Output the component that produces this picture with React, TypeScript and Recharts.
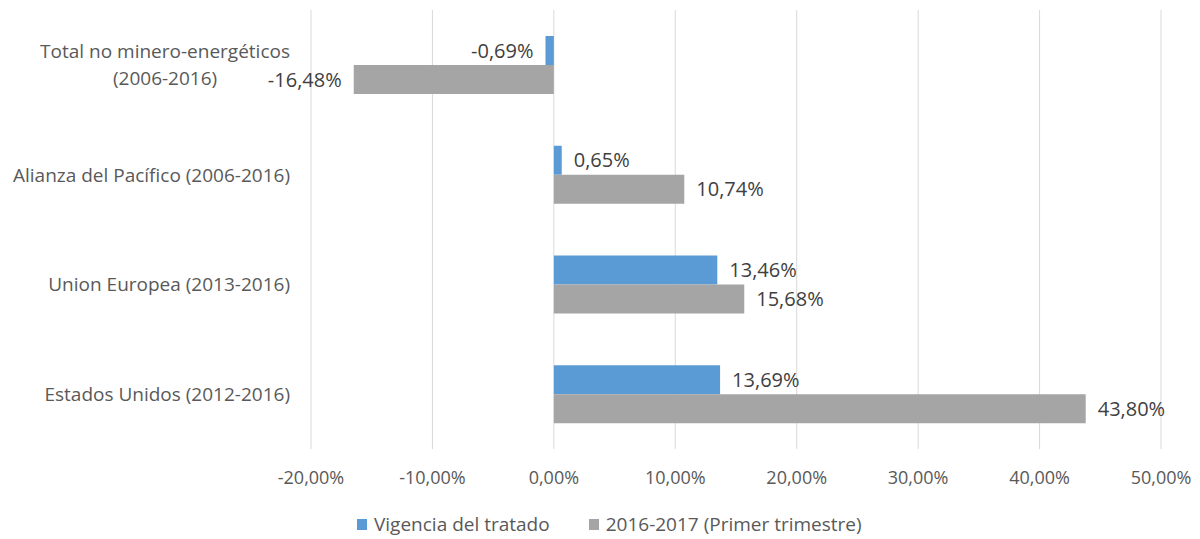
import React from "react";
import {
  BarChart,
  Bar,
  XAxis,
  YAxis,
  CartesianGrid,
  Legend,
  LabelList,
} from "recharts";

const categories = [
  "Total no minero-energéticos (2006-2016)",
  "Alianza del Pacífico (2006-2016)",
  "Union Europea (2013-2016)",
  "Estados Unidos (2012-2016)",
];
const vigencia = [-0.69, 0.65, 13.46, 13.69];
const primerTrimestre = [-16.48, 10.74, 15.68, 43.8];
const xTicks = [-20, -10, 0, 10, 20, 30, 40, 50];
const seriesNames = ["Vigencia del tratado", "2016-2017 (Primer trimestre)"];
const seriesColors = ["#5b9bd5", "#a5a5a5"];

const data = categories.map((name, i) => ({
  name,
  vigencia: vigencia[i],
  trimestre: primerTrimestre[i],
}));

const FONT = "'Open Sans', sans-serif";
const CAT_FS = 19;
const fmt = (v: number) => `${v.toFixed(2).replace(".", ",")}%`;

function textWidth(s: string) {
  const c = document.createElement("canvas").getContext("2d");
  if (!c) return s.length * CAT_FS * 0.5;
  c.font = `${CAT_FS}px ${FONT}`;
  return c.measureText(s).width;
}

function CategoryTick(props: any) {
  const { x, y, payload } = props;
  const label: string = payload.value;
  let lines = [label];
  if (label.length > 34) {
    const cut = label.indexOf(" (");
    lines = [label.slice(0, cut), label.slice(cut + 1)];
  }
  const lh = 27;
  const start = y - ((lines.length - 1) * lh) / 2;
  const maxW = Math.max(...lines.map(textWidth));
  const cx = x - maxW / 2;
  return (
    <text fill="#595959" fontSize={CAT_FS} fontFamily={FONT} textAnchor="middle">
      {lines.map((l, i) => (
        <tspan key={i} x={cx} y={start + i * lh} dominantBaseline="central">
          {l}
        </tspan>
      ))}
    </text>
  );
}

function LegendContent() {
  return (
    <div
      style={{
        display: "flex",
        justifyContent: "flex-start",
        fontFamily: FONT,
        fontSize: 19,
        color: "#595959",
        paddingLeft: 357,
      }}
    >
      {seriesNames.map((n, i) => (
        <span key={n} style={{ display: "flex", alignItems: "center", marginRight: 39 }}>
          <span
            style={{
              display: "inline-block",
              width: 10,
              height: 11,
              background: seriesColors[i],
              marginRight: 7,
            }}
          />
          {n}
        </span>
      ))}
    </div>
  );
}

export default function App() {
  return (
    <div style={{ position: "absolute", left: 0, top: 0, background: "#fff" }}>
      <BarChart
        width={1200}
        height={539}
        data={data}
        layout="vertical"
        margin={{ top: 10, right: 39, bottom: 10, left: 0 }}
        barGap={0}
        barSize={29}
      >
        <CartesianGrid horizontal={false} stroke="#d9d9d9" />
        <XAxis
          type="number"
          domain={[-20, 50]}
          ticks={xTicks}
          tickFormatter={fmt}
          axisLine={false}
          tickLine={false}
          tickSize={0}
          tickMargin={22}
          height={50}
          tick={{ fill: "#595959", fontSize: 18, fontFamily: FONT }}
        />
        <YAxis
          type="category"
          dataKey="name"
          width={311}
          axisLine={false}
          tickLine={false}
          tickSize={0}
          tickMargin={21}
          tick={<CategoryTick />}
        />
        <Legend
          verticalAlign="bottom"
          height={30}
          content={<LegendContent />}
          wrapperStyle={{ top: 511, left: 0, width: 1200 }}
        />
        <Bar
          dataKey="vigencia"
          name={seriesNames[0]}
          fill={seriesColors[0]}
          isAnimationActive={false}
        >
          <LabelList
            dataKey="vigencia"
            position="right"
            offset={12}
            formatter={(v: any) => fmt(Number(v))}
            fill="#404040"
            fontSize={20}
            fontFamily={FONT}
          />
        </Bar>
        <Bar
          dataKey="trimestre"
          name={seriesNames[1]}
          fill={seriesColors[1]}
          isAnimationActive={false}
        >
          <LabelList
            dataKey="trimestre"
            position="right"
            offset={12}
            formatter={(v: any) => fmt(Number(v))}
            fill="#404040"
            fontSize={20}
            fontFamily={FONT}
          />
        </Bar>
      </BarChart>
    </div>
  );
}
